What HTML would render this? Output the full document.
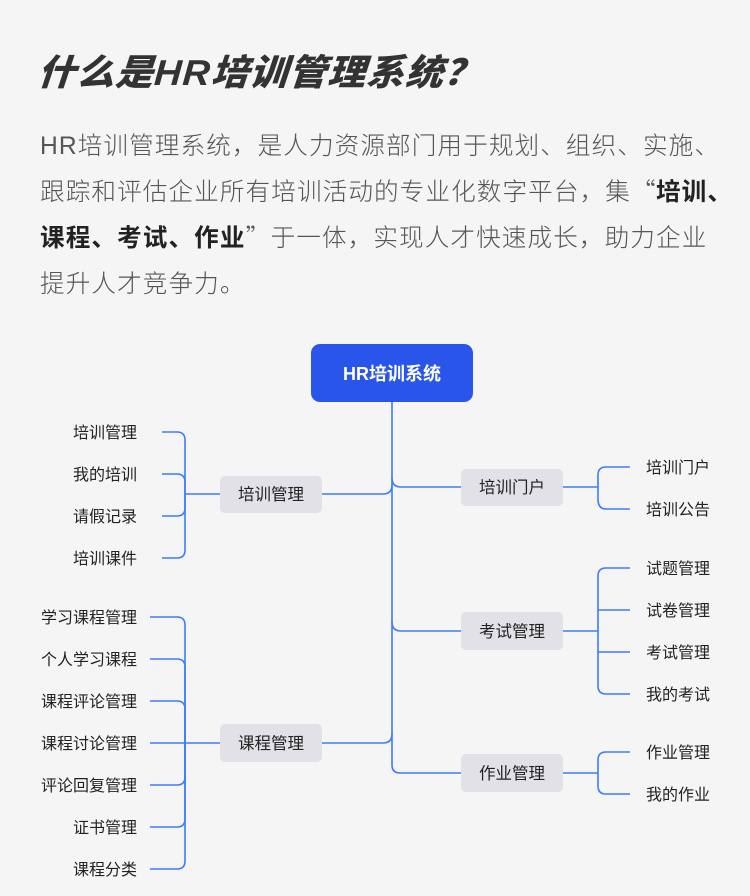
<!DOCTYPE html>
<html><head><meta charset="utf-8"><style>
body{margin:0;width:750px;height:896px;background:#f5f5f5;overflow:hidden;position:relative;font-family:"Liberation Sans","Noto Sans CJK SC",sans-serif}
.t{position:absolute;left:38px;top:44px;font-size:36px;font-weight:900;color:#333;font-style:italic;transform:skewX(-4deg) scaleX(1.05);transform-origin:left;letter-spacing:1px;white-space:nowrap}
.p{position:absolute;left:40px;font-size:24.6px;color:#555;white-space:nowrap;font-weight:300;letter-spacing:1.1px}
.p b{color:#222;font-weight:700}
.q{font-family:"Noto Sans CJK SC",sans-serif;display:inline-block;width:25px;text-align:center}
svg{position:absolute;left:0;top:0}
</style></head><body>
<div class="t">什么是HR培训管理系统？</div>
<div class="p" style="top:126px">HR培训管理系统，是人力资源部门用于规划、组织、实施、</div>
<div class="p" style="top:172px">跟踪和评估企业所有培训活动的专业化数字平台，集<span class="q">“</span><b>培训、</b></div>
<div class="p" style="top:218px"><b>课程、考试、作业</b><span class="q">”</span>于一体，实现人才快速成长，助力企业</div>
<div class="p" style="top:264px">提升人才竞争力。</div>
<svg width="750" height="896" font-family="Liberation Sans, Noto Sans CJK SC, sans-serif">
<g fill="none" stroke="#3b7cff" stroke-width="1.6">
<path d="M392 402 V765 Q392 773 400 773 H461"/>
<path d="M392 478 Q392 487 401 487 H461"/>
<path d="M392 622 Q392 631 401 631 H461"/>
<path d="M322 494 H383 Q392 494 392 485"/>
<path d="M322 743 H383 Q392 743 392 734"/>
<path d="M220 494 H185"/>
<path d="M162 432 H177 Q185 432 185 440 V494"/>
<path d="M162 474 H177 Q185 474 185 482 V494"/>
<path d="M162 516 H177 Q185 516 185 508 V494"/>
<path d="M162 558 H177 Q185 558 185 550 V494"/>
<path d="M220 743 H150"/>
<path d="M150 617 H177 Q185 617 185 625 V743"/>
<path d="M150 659 H177 Q185 659 185 667 V743"/>
<path d="M150 701 H177 Q185 701 185 709 V743"/>
<path d="M150 785 H177 Q185 785 185 777 V743"/>
<path d="M150 827 H177 Q185 827 185 819 V743"/>
<path d="M150 869 H177 Q185 869 185 861 V743"/>
<path d="M563 487 H598"/>
<path d="M630 467 H606 Q598 467 598 475 V499 Q598 509 606 509 H630"/>
<path d="M563 631 H598"/>
<path d="M630 568 H606 Q598 568 598 576 V686 Q598 694 606 694 H630"/>
<path d="M598 610 Q598 610 606 610 H630"/>
<path d="M598 652 H630"/>
<path d="M563 773 H598"/>
<path d="M630 752 H606 Q598 752 598 760 V786 Q598 794 606 794 H630"/>
</g>
<rect x="311" y="344" width="162" height="58" rx="9" fill="#2a55ea"/>
<text x="392" y="380" font-size="18" font-weight="700" fill="#fff" text-anchor="middle">HR培训系统</text>
<g fill="#e1e1e7">
<rect x="220" y="476" width="102" height="37" rx="5"/>
<rect x="220" y="724" width="102" height="38" rx="5"/>
<rect x="461" y="469" width="102" height="37" rx="5"/>
<rect x="461" y="612" width="102" height="38" rx="5"/>
<rect x="461" y="754" width="102" height="38" rx="5"/>
</g>
<g font-size="16.5" fill="#222" text-anchor="middle">
<text x="271" y="500">培训管理</text>
<text x="271" y="749">课程管理</text>
<text x="512" y="493">培训门户</text>
<text x="512" y="637">考试管理</text>
<text x="512" y="779">作业管理</text>
</g>
<g font-size="16" fill="#222" text-anchor="end">
<text x="137" y="438">培训管理</text>
<text x="137" y="480">我的培训</text>
<text x="137" y="522">请假记录</text>
<text x="137" y="564">培训课件</text>
<text x="137" y="623">学习课程管理</text>
<text x="137" y="665">个人学习课程</text>
<text x="137" y="707">课程评论管理</text>
<text x="137" y="749">课程讨论管理</text>
<text x="137" y="791">评论回复管理</text>
<text x="137" y="833">证书管理</text>
<text x="137" y="875">课程分类</text>
</g>
<g font-size="16" fill="#222">
<text x="646" y="473">培训门户</text>
<text x="646" y="515">培训公告</text>
<text x="646" y="574">试题管理</text>
<text x="646" y="616">试卷管理</text>
<text x="646" y="658">考试管理</text>
<text x="646" y="700">我的考试</text>
<text x="646" y="758">作业管理</text>
<text x="646" y="800">我的作业</text>
</g>
</svg>
</body></html>
